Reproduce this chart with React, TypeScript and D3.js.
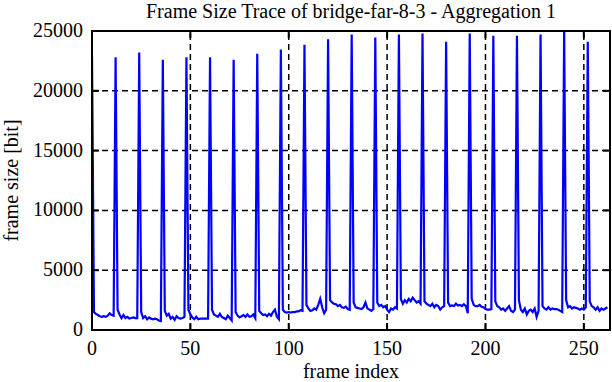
import React from "react";
import * as d3 from "d3";

const title = "Frame Size Trace of bridge-far-8-3 - Aggregation 1";
const xLabel = "frame index";
const yLabel = "frame size [bit]";
const xTicks = [0, 50, 100, 150, 200, 250];
const yTicks = [0, 5000, 10000, 15000, 20000, 25000];
const xGrid = [50, 100, 150, 200, 250];
const yGrid = [5000, 10000, 15000, 20000];

// frame sizes [bit], frame index = array position
const frameSizes = [
  22900, 1500, 1350, 1250, 1150, 1100, 1150, 1100, 1200, 1400, 1250, 1200,
  22800, 1700, 1300, 1000, 1250, 1000, 1100, 950, 1000, 1050, 1000, 1000,
  23200, 1500, 1000, 1150, 900, 1050, 950, 900, 950, 900, 800, 750,
  22600, 1600, 1200, 1350, 950, 1100, 850, 1150, 1000, 950, 1000, 1100,
  22800, 1700, 1300, 1050, 900, 1100, 900, 950, 950, 950, 950, 950,
  22800, 1700, 1300, 1200, 1100, 1350, 1100, 1000, 900, 1200, 1000, 800,
  22600, 1500, 1200, 1050, 1150, 1250, 1100, 1300, 1100, 1150, 1300, 1000,
  23100, 1600, 1400, 1250, 1300, 1150, 1350, 1200, 1500, 1700, 1100, 900,
  23450, 1700, 1500, 1450, 1500, 1450, 1500, 1500, 1550, 1550, 1650, 1600,
  23850, 2100, 1800, 1600, 1650, 1800, 1700, 2100, 2600, 1900, 1400, 1700,
  24300, 2500, 2300, 2200, 2150, 2000, 2100, 1900, 1850, 1950, 1750, 1700,
  24700, 2300, 1900, 1850, 1800, 1750, 1900, 2300, 1800, 1700, 1600, 1750,
  24450, 2300, 2000, 2100, 1900, 2000, 1700, 1500, 1800, 1700, 1900, 1800,
  24700, 2600, 2200, 2500, 2300, 2600, 2400, 2700, 2500, 2300, 2400, 2200,
  24800, 2400, 2200, 2100, 2000, 2200, 1900, 2100, 2000, 1700, 1900, 2000,
  24100, 2300, 2000, 2050, 2000, 2200, 2050, 2100, 2000, 2150, 2000, 1400,
  24800, 2600, 2100, 2000, 2000, 2100, 1950, 1900, 1750, 1700, 1700, 1750,
  24600, 2400, 2000, 1900, 1700, 1800, 1600, 1800, 2000, 1600, 1500, 1700,
  24600, 2500, 1700, 1500, 1800, 1300, 1600, 1700, 1500, 1800, 1100, 1600,
  24700, 2000, 1800, 1700, 1900, 1700, 1800, 1750, 1750, 1700, 1600, 1500,
  25000, 2500, 1900, 2000, 1800, 1900, 1850, 1800, 1700, 1800, 1700, 1900,
  24100, 2400, 2000, 1900, 1700, 1900, 1600, 1800, 1700, 1800, 1900,
];

const W = 612;
const H = 382;
const left = 92;
const right = 610;
const top = 31;
const bottom = 330;

export default function App() {
  const x = d3.scaleLinear().domain([0, 263.3]).range([left, right]);
  const y = d3.scaleLinear().domain([0, 25000]).range([bottom, top]);
  const line = d3
    .line<number>()
    .x((_, i) => x(i))
    .y((d) => y(d));
  const font = "'Liberation Serif', 'DejaVu Serif', serif";
  const tl = 7;
  const fs = 20;
  return (
    <svg
      width={W}
      height={H}
      style={{ position: "absolute", left: 0, top: 0, background: "#fff" }}
      fontFamily={font}
    >
      <rect x={0} y={0} width={W} height={H} fill="#fff" />
      <defs>
        <clipPath id="plot">
          <rect x={left} y={top - 2} width={right - left} height={bottom - top + 2} />
        </clipPath>
      </defs>
      {/* grid */}
      {xGrid.map((t) => (
        <line
          key={"gx" + t}
          x1={x(t)}
          x2={x(t)}
          y1={bottom}
          y2={top}
          stroke="#000"
          strokeWidth={1.5}
          strokeDasharray="6,4"
        />
      ))}
      {yGrid.map((t) => (
        <line
          key={"gy" + t}
          x1={left}
          x2={right}
          y1={y(t)}
          y2={y(t)}
          stroke="#000"
          strokeWidth={1.5}
          strokeDasharray="6,4"
        />
      ))}
      {/* data */}
      <path
        d={line(frameSizes) || ""}
        fill="none"
        stroke="#0000ff"
        strokeWidth={2.2}
        strokeLinejoin="miter"
        clipPath="url(#plot)"
      />
      {/* ticks */}
      {xTicks.map((t) => (
        <g key={"tx" + t}>
          <line x1={x(t)} x2={x(t)} y1={bottom} y2={bottom - tl} stroke="#000" strokeWidth={2} />
          <line x1={x(t)} x2={x(t)} y1={top} y2={top + tl} stroke="#000" strokeWidth={2} />
          <text x={x(t)} y={355} fontSize={fs} textAnchor="middle">
            {t}
          </text>
        </g>
      ))}
      {yTicks.map((t) => (
        <g key={"ty" + t}>
          <line x1={left} x2={left + tl} y1={y(t)} y2={y(t)} stroke="#000" strokeWidth={2} />
          <line x1={right} x2={right - tl} y1={y(t)} y2={y(t)} stroke="#000" strokeWidth={2} />
          <text x={83} y={y(t) + 6} fontSize={fs} textAnchor="end">
            {t}
          </text>
        </g>
      ))}
      {/* border */}
      <rect
        x={left}
        y={top}
        width={right - left}
        height={bottom - top}
        fill="none"
        stroke="#000"
        strokeWidth={2}
      />
      <text x={(left + right) / 2} y={18} fontSize={fs} textAnchor="middle">
        {title}
      </text>
      <text x={(left + right) / 2} y={378} fontSize={fs} textAnchor="middle">
        {xLabel}
      </text>
      <text
        transform={`translate(18, ${(top + bottom) / 2}) rotate(-90)`}
        fontSize={fs}
        textAnchor="middle"
      >
        {yLabel}
      </text>
    </svg>
  );
}
